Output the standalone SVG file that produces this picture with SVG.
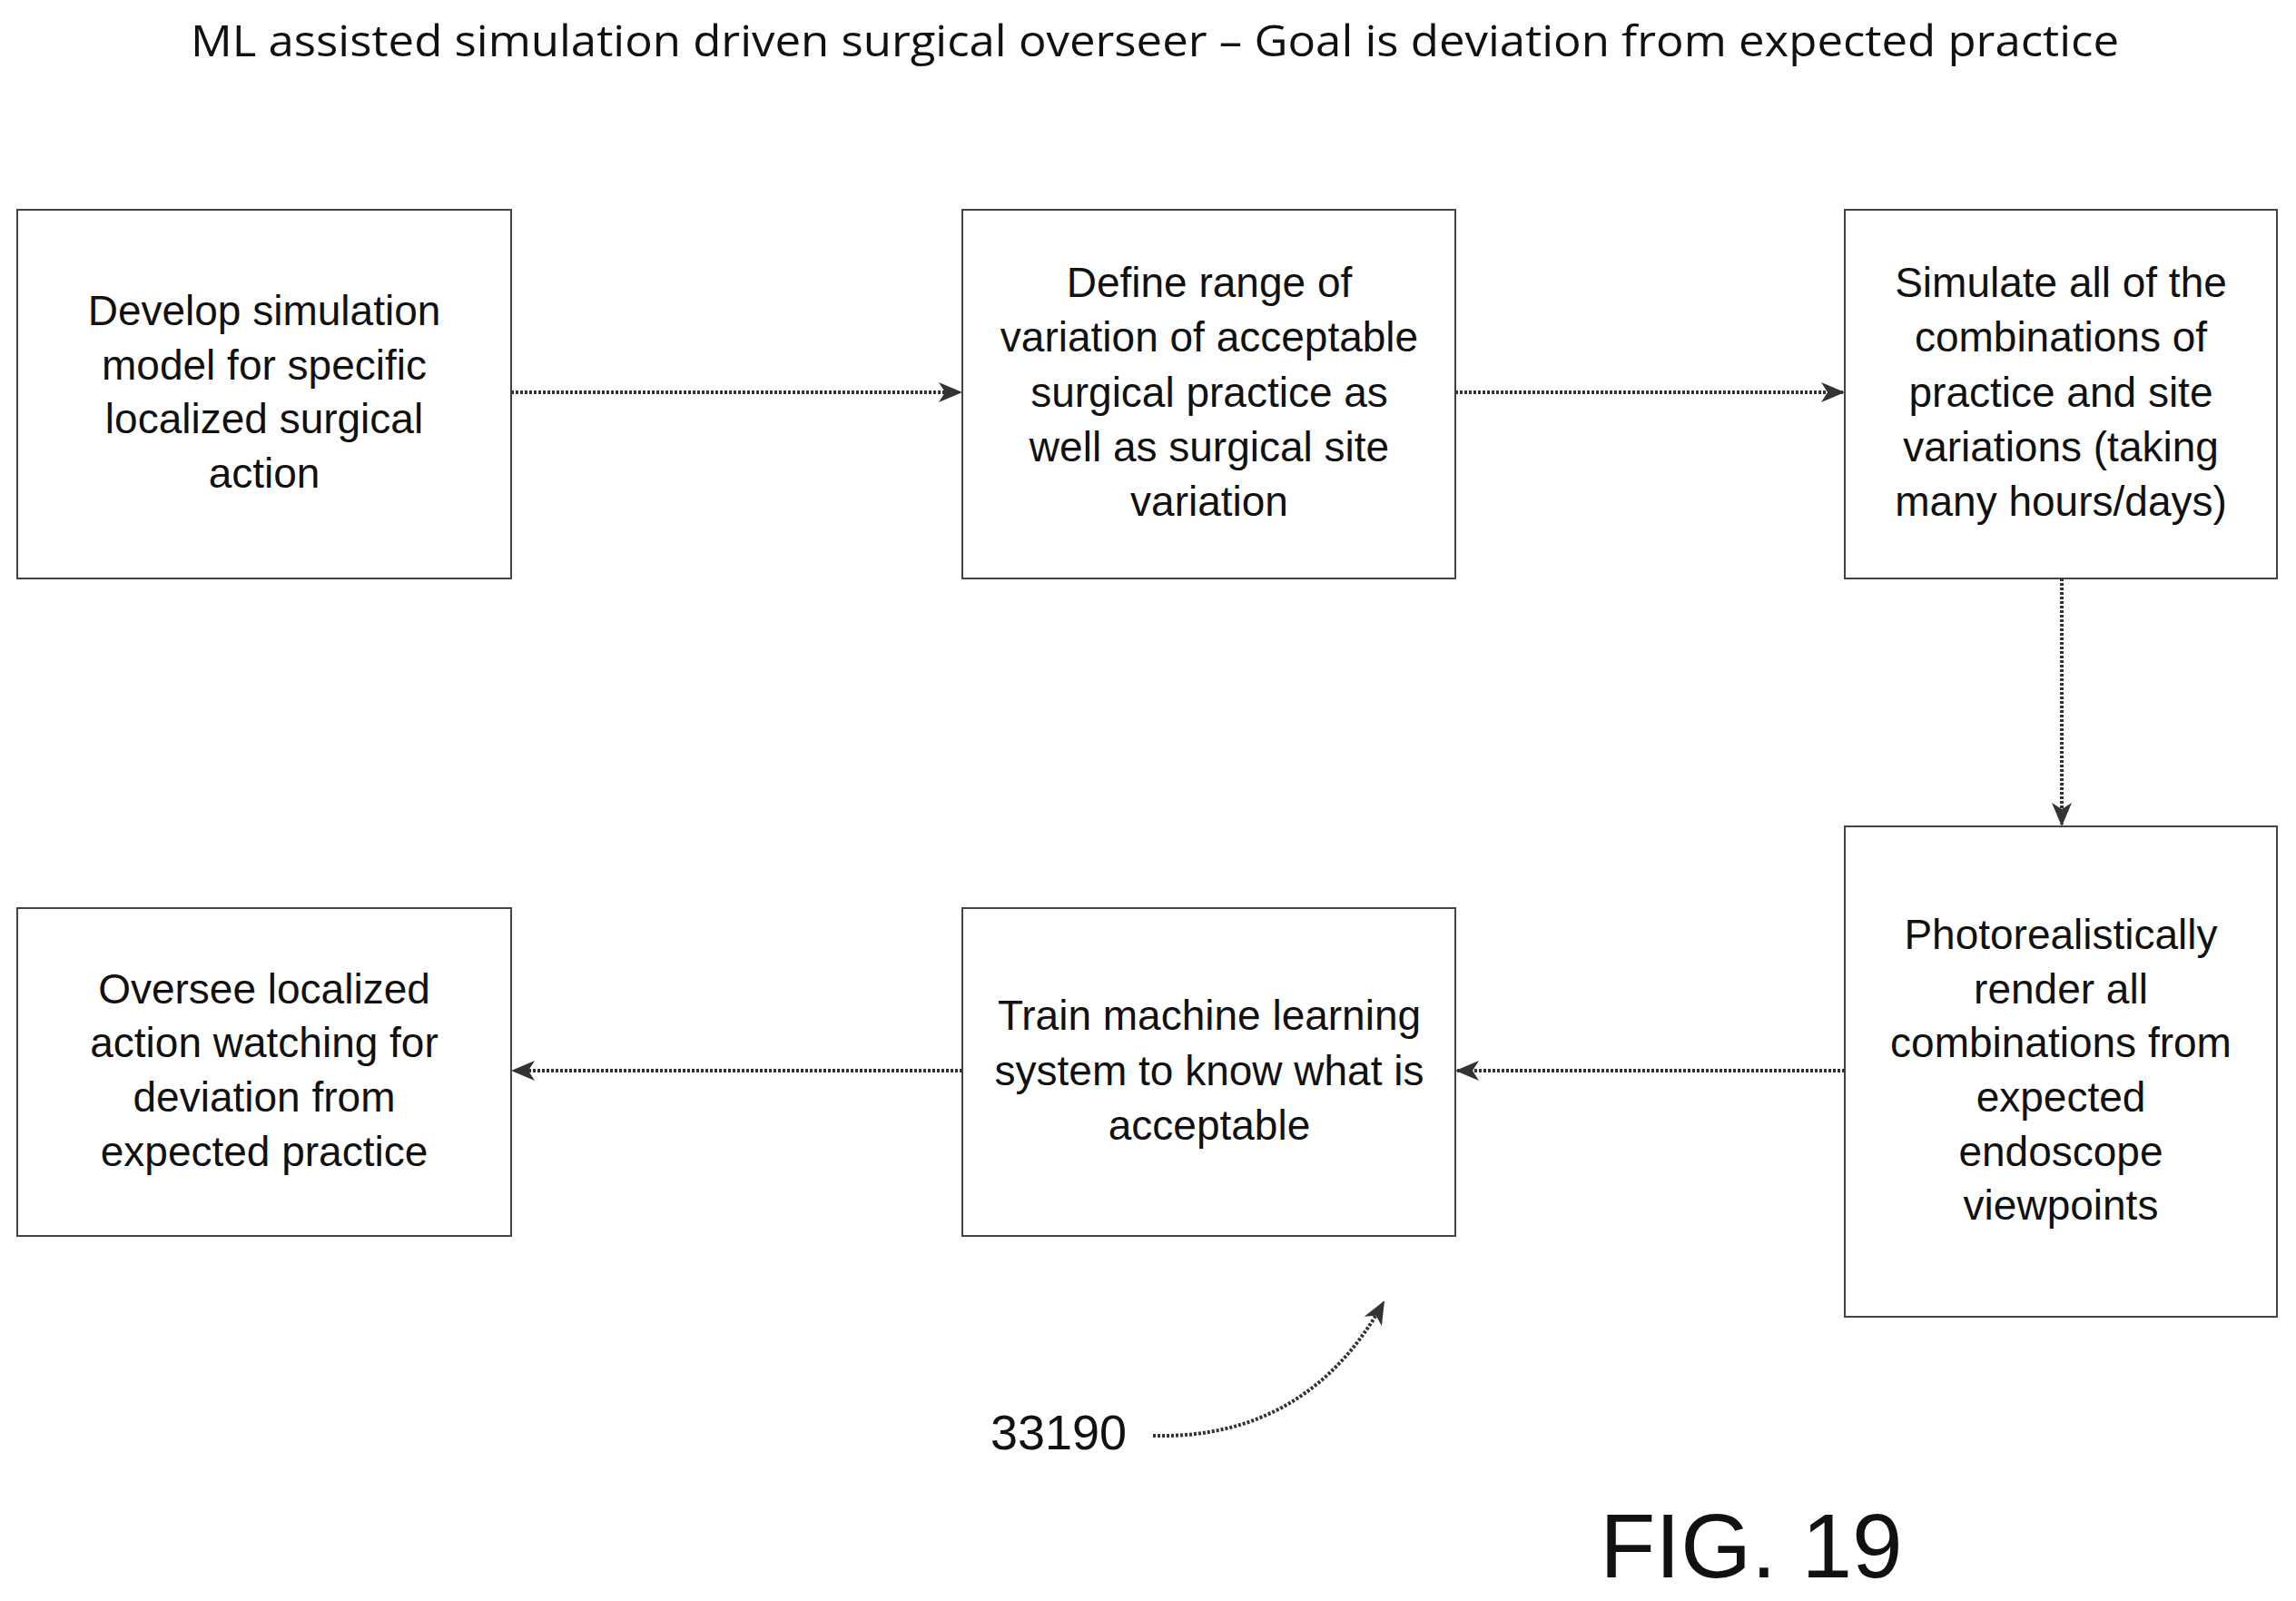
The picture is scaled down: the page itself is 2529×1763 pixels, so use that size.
<svg xmlns="http://www.w3.org/2000/svg" width="2529" height="1763" viewBox="0 0 2529 1763">
<defs>
<style>
.box{fill:#fff;stroke:#444;stroke-width:2}
.t{font-family:"Liberation Sans",Arial,sans-serif;font-size:46px;fill:#111;text-anchor:middle;dominant-baseline:central}
.c{fill:none;stroke:#333;stroke-width:4;stroke-dasharray:3 2}
</style>
<marker id="b" markerWidth="26" markerHeight="26" refX="24" refY="13" orient="auto" markerUnits="userSpaceOnUse" viewBox="0 0 26 26"><path d="M0,2 L26,13 L0,24 L7,13 Z" fill="#333"/></marker>
</defs>
<rect width="2529" height="1763" fill="#fff"/>
<text x="1272" y="43" font-family="Open Sans,Liberation Sans,sans-serif" font-size="48" text-anchor="middle" dominant-baseline="central" textLength="2124" lengthAdjust="spacingAndGlyphs" fill="#111">ML assisted simulation driven surgical overseer – Goal is deviation from expected practice</text>
<g id="n1"><rect class="box" x="19" y="231" width="544" height="406"/><text class="t"><tspan x="291" y="342">Develop simulation</tspan><tspan x="291" y="402">model for specific</tspan><tspan x="291" y="461">localized surgical</tspan><tspan x="291" y="521">action</tspan></text></g>
<g id="n2"><rect class="box" x="1060" y="231" width="543" height="406"/><text class="t"><tspan x="1332" y="311">Define range of</tspan><tspan x="1332" y="371">variation of acceptable</tspan><tspan x="1332" y="432">surgical practice as</tspan><tspan x="1332" y="492">well as surgical site</tspan><tspan x="1332" y="552">variation</tspan></text></g>
<g id="n3"><rect class="box" x="2032" y="231" width="476" height="406"/><text class="t"><tspan x="2270" y="311">Simulate all of the</tspan><tspan x="2270" y="371">combinations of</tspan><tspan x="2270" y="432">practice and site</tspan><tspan x="2270" y="492">variations (taking</tspan><tspan x="2270" y="552">many hours/days)</tspan></text></g>
<g id="n4"><rect class="box" x="2032" y="910" width="476" height="540"/><text class="t"><tspan x="2270" y="1029">Photorealistically</tspan><tspan x="2270" y="1089">render all</tspan><tspan x="2270" y="1148">combinations from</tspan><tspan x="2270" y="1208">expected</tspan><tspan x="2270" y="1268">endoscope</tspan><tspan x="2270" y="1327">viewpoints</tspan></text></g>
<g id="n5"><rect class="box" x="1060" y="1000" width="543" height="361"/><text class="t"><tspan x="1332" y="1118">Train machine learning</tspan><tspan x="1332" y="1179">system to know what is</tspan><tspan x="1332" y="1239">acceptable</tspan></text></g>
<g id="n6"><rect class="box" x="19" y="1000" width="544" height="361"/><text class="t"><tspan x="291" y="1089">Oversee localized</tspan><tspan x="291" y="1148">action watching for</tspan><tspan x="291" y="1208">deviation from</tspan><tspan x="291" y="1268">expected practice</tspan></text></g>
<g id="connectors">
<line class="c" x1="563" y1="432" x2="1058" y2="432" marker-end="url(#b)"/>
<line class="c" x1="1603" y1="432" x2="2030" y2="432" marker-end="url(#b)"/>
<line class="c" x1="2271" y1="637" x2="2271" y2="908" marker-end="url(#b)"/>
<line class="c" x1="2032" y1="1179" x2="1605" y2="1179" marker-end="url(#b)"/>
<line class="c" x1="1060" y1="1179" x2="565" y2="1179" marker-end="url(#b)"/>
<path class="c" d="M1270,1581 Q1440,1585 1524,1434" marker-end="url(#b)"/>
</g>
<text x="1166" y="1577" font-family="Liberation Sans Narrow,Liberation Sans,sans-serif" font-size="54" text-anchor="middle" dominant-baseline="central" fill="#111">33190</text>
<text x="1929" y="1702" font-family="Liberation Sans,Arial,sans-serif" font-size="100" text-anchor="middle" dominant-baseline="central" fill="#111">FIG. 19</text>
</svg>
